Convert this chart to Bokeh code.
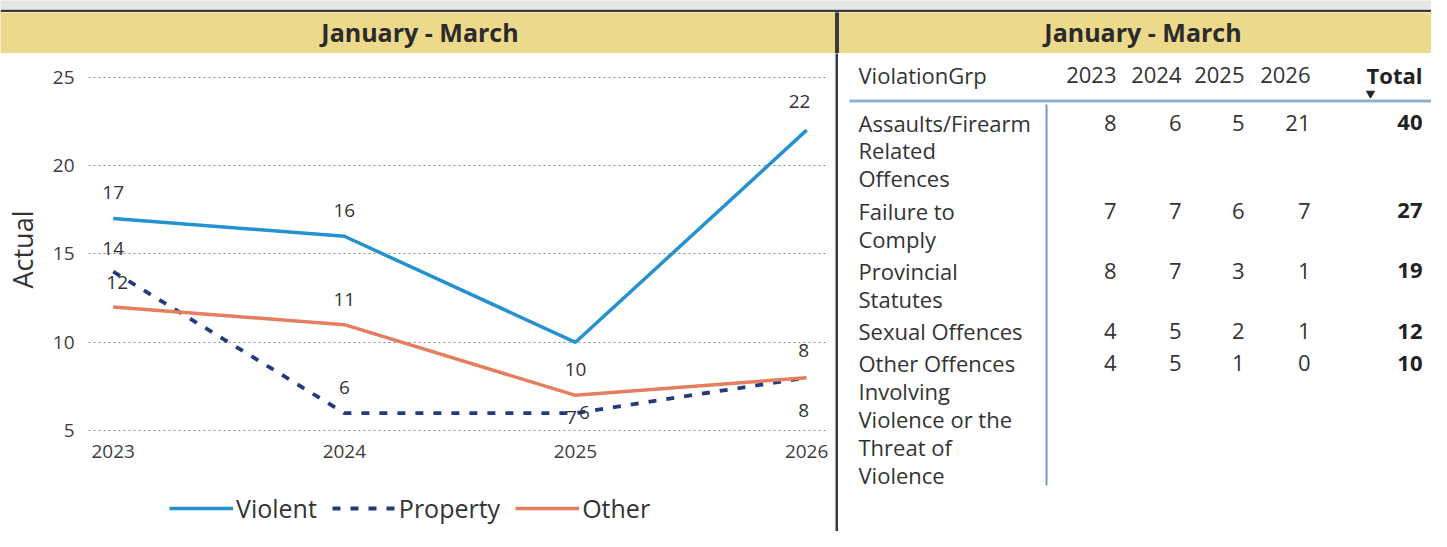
from bokeh.plotting import figure
from bokeh.models import (ColumnDataSource, Range1d, FixedTicker, Legend,
                          LegendItem, LabelSet)
from bokeh.layouts import column, row
from bokeh.core.properties import value
from bokeh.embed import file_html
from bokeh.resources import INLINE

# ---------------- data ----------------
years = [2023, 2024, 2025, 2026]
violent = [17, 16, 10, 22]
property_vals = [14, 6, 6, 8]
other = [12, 11, 7, 8]
y_ticks = [5, 10, 15, 20, 25]
period = "January - March"
y_label = "Actual"
series_names = ["Violent", "Property", "Other"]

table_header = ["ViolationGrp", "2023", "2024", "2025", "2026", "Total"]
groups = [
    "Assaults/Firearm\nRelated\nOffences",
    "Failure to\nComply",
    "Provincial\nStatutes",
    "Sexual Offences",
    "Other Offences\nInvolving\nViolence or the\nThreat of\nViolence",
]
val_2023 = [8, 7, 8, 4, 4]
val_2024 = [6, 7, 7, 5, 5]
val_2025 = [5, 6, 3, 2, 1]
val_2026 = [21, 7, 1, 1, 0]
totals = [40, 27, 19, 12, 10]

# ---------------- styles / layout sizes ----------------
BLUE = "#2592cf"
NAVY = "#233a7c"
SALMON = "#e47e5f"
TAN = "#edd98c"
DARK = "#3a3a3a"
TXT = "#333333"
FONT = "Open Sans"
series_styles = [
    dict(line_color=BLUE, line_width=3.5),
    dict(line_color=NAVY, line_width=3.8, line_dash="8 10"),
    dict(line_color=SALMON, line_width=3.5),
]
W_TOTAL = 1431
W_LEFT, W_DIV, W_RIGHT = 835, 3, 593
H_STRIP, H_HEAD, H_BODY = 12, 41, 478
H_LEG = 44


def blank(w, h, bg, xr=(0, 1), yr=(0, 1), **kw):
    f = figure(width=w, height=h, output_backend="svg", toolbar_location=None,
               x_range=Range1d(*xr), y_range=Range1d(*yr), min_border=0,
               outline_line_color=None, background_fill_color=bg,
               border_fill_color=bg, x_axis_location=None,
               y_axis_location=None, **kw)
    f.grid.visible = False
    return f


# ---------------- top strip + headers ----------------
top_strip = figure(width=W_TOTAL, height=H_STRIP, output_backend="svg",
                   toolbar_location=None, min_border=0, min_border_bottom=3,
                   outline_line_color=None, background_fill_color="#e6e6e6",
                   border_fill_color=DARK, x_axis_location=None,
                   y_axis_location=None)
top_strip.grid.visible = False

hdr = blank(W_TOTAL, H_HEAD, TAN, xr=(0, W_TOTAL), yr=(0, H_HEAD))
hdr.vbar(x=[W_LEFT + W_DIV / 2], width=W_DIV, top=H_HEAD, bottom=0,
         color=DARK)
hdr.text(x=[W_LEFT / 2 + 2, W_LEFT + W_DIV + W_RIGHT / 2 + 8],
         y=[H_HEAD / 2 + 1] * 2, text=[period, period], text_align="center",
         text_baseline="middle", text_font=value(FONT),
         text_font_style="bold", text_font_size="25px", text_color="#2b2b2b")

# ---------------- chart ----------------
p = figure(width=W_LEFT, height=H_BODY - H_LEG,
           x_range=Range1d(2022.893, 2026.086),
           y_range=Range1d(4.9, 25.6), output_backend="svg",
           toolbar_location=None, min_border_left=87, min_border_right=9,
           min_border_top=13, min_border_bottom=55, outline_line_color=None)
p.xgrid.visible = False
p.ygrid.grid_line_dash = "2 3"
p.ygrid.grid_line_color = "#8a8a8a"
p.ygrid.grid_line_width = 1.2
p.yaxis.ticker = FixedTicker(ticks=y_ticks)
p.xaxis.ticker = FixedTicker(ticks=years)
for ax in p.axis:
    ax.axis_line_color = None
    ax.major_tick_line_color = None
    ax.minor_tick_line_color = None
    ax.major_tick_out = 0
    ax.major_tick_in = 0
    ax.major_label_text_font = FONT
    ax.major_label_text_font_size = "19px"
    ax.major_label_text_color = "#3d3d3d"
p.xaxis.major_label_standoff = 12
p.yaxis.major_label_standoff = 14
p.yaxis.axis_label = y_label
p.yaxis.axis_label_text_font = FONT
p.yaxis.axis_label_text_font_style = "normal"
p.yaxis.axis_label_text_font_size = "27px"
p.yaxis.axis_label_text_color = TXT
p.yaxis.axis_label_standoff = 9

for vals, st in zip([violent, property_vals, other], series_styles):
    p.line(years, vals, **st)

label_specs = [
    (violent, [0, 0, 0, -7], [26, 26, -27, 29]),
    (property_vals, [0, 0, 9, -3], [23, 26, 1, -33]),
    (other, [4, 0, -4, -3], [24, 25, -22, 27]),
]
for vals, dx, dy in label_specs:
    src = ColumnDataSource(dict(x=years, y=vals, t=[str(v) for v in vals],
                                dx=dx, dy=dy))
    p.add_layout(LabelSet(x="x", y="y", text="t", source=src,
                          x_offset="dx", y_offset="dy", text_align="center",
                          text_baseline="middle", text_font=value(FONT),
                          text_font_size="19px", text_color=TXT))

# ---------------- legend strip (frame aligned with the chart's) ----------
lg = blank(W_LEFT, H_LEG, "white")
lg_items = []
nan = float("nan")
for name, st in zip(series_names, series_styles):
    r = lg.line(x=[nan], y=[nan], **st)
    lg_items.append(LegendItem(label=name, renderers=[r]))
legend = Legend(
    items=lg_items, orientation="horizontal", location=(81, 6), padding=2,
    margin=0, spacing=15, glyph_width=64, glyph_height=28, label_standoff=3,
    label_text_font=FONT, label_text_font_size="25px",
    label_text_color=TXT, border_line_color=None, background_fill_alpha=0,
)
lg.add_layout(legend)

left_col = column(p, lg, spacing=0)

# ---------------- table ----------------
TW, TH = W_RIGHT, H_BODY
t = blank(TW, TH, "white", xr=(0, TW), yr=(TH, 0))
col_right = [278, 343, 406, 472, 584]
label_x = 20
head_y = 21
line_h = 27.9
group_gap = 4.4
first_y = 69
TFS = "22px"

t.text(x=[label_x], y=[head_y], text=[table_header[0]], text_align="left",
       text_baseline="middle", text_font=value(FONT), text_font_size=TFS,
       text_color=TXT)
t.text(x=col_right[:4], y=[head_y] * 4, text=table_header[1:5],
       text_align="right", text_baseline="middle", text_font=value(FONT),
       text_font_size=TFS, text_color=TXT)
t.text(x=[col_right[4]], y=[head_y], text=[table_header[5]],
       text_align="right", text_baseline="middle", text_font=value(FONT),
       text_font_style="bold", text_font_size=TFS, text_color="#222222")
t.scatter(x=[532], y=[40], marker="inverted_triangle", size=8,
          color="#222222")
t.segment(x0=[11], y0=[47.6], x1=[TW], y1=[47.6], line_color="#8fb0cc",
          line_width=3)

lx, ly, lt = [], [], []
row_y = []
y = first_y
for g in groups:
    lines = g.split("\n")
    row_y.append(y)
    for i, ln in enumerate(lines):
        lx.append(label_x)
        ly.append(y + i * line_h)
        lt.append(ln)
    y = y + len(lines) * line_h + group_gap
t.text(x=lx, y=ly, text=lt, text_align="left", text_baseline="middle",
       text_font=value(FONT), text_font_size=TFS, text_color=TXT)

for ci, vals in enumerate([val_2023, val_2024, val_2025, val_2026]):
    t.text(x=[col_right[ci]] * len(vals), y=row_y, text=[str(v) for v in vals],
           text_align="right", text_baseline="middle", text_font=value(FONT),
           text_font_size=TFS, text_color=TXT)
t.text(x=[col_right[4]] * len(totals), y=row_y, text=[str(v) for v in totals],
       text_align="right", text_baseline="middle", text_font=value(FONT),
       text_font_style="bold", text_font_size=TFS, text_color="#222222")
t.segment(x0=[208], y0=[51], x1=[208], y1=[432], line_color="#6f9cc5",
          line_width=2)

divider = blank(W_DIV, H_BODY, DARK)

layout = column(top_strip, hdr,
                row(left_col, divider, t, spacing=0), spacing=0)

open("out.html", "w").write(file_html(layout, INLINE))
